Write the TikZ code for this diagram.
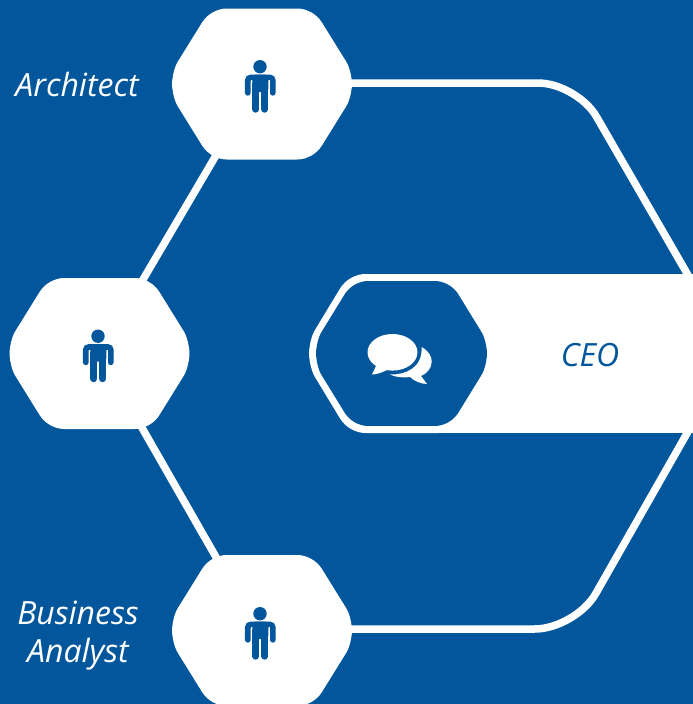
\documentclass[tikz,border=0pt]{standalone}
\usepackage{fontspec}
\setmainfont{Open Sans}
\definecolor{bgblue}{HTML}{01569C}
\tikzset{
  hexbox/.style={minimum width=180pt,minimum height=151pt,inner sep=0pt,outer sep=0pt},
  conn/.style={draw=white,line width=7.5pt},
  lbl/.style={font=\itshape\fontsize{32}{38}\selectfont,align=center,inner sep=0pt},
}
\newcommand{\hexpath}{%
  (-90,0) .. controls (-90,-3.5) and (-88.5,-15.4) .. (-84.4,-22)
  -- (-59.6,-62) .. controls (-54.4,-70.1) and (-44.6,-75.5) .. (-35,-75.5)
  -- (35,-75.5) .. controls (44.6,-75.5) and (54.4,-70.1) .. (59.6,-62)
  -- (84.4,-22) .. controls (88.5,-15.4) and (90,-3.5) .. (90,0)
  .. controls (90,3.5) and (88.5,15.4) .. (84.4,22)
  -- (59.6,62) .. controls (54.4,70.1) and (44.6,75.5) .. (35,75.5)
  -- (-35,75.5) .. controls (-44.6,75.5) and (-54.4,70.1) .. (-59.6,62)
  -- (-84.4,22) .. controls (-88.5,15.4) and (-90,3.5) .. (-90,0) -- cycle
}
\newcommand{\person}[1]{%
  \begin{scope}[shift={(#1)}]
    \fill[bgblue] (-2,-17.3) circle (6.7);
    \fill[bgblue,rounded corners=3pt] (-9.7,-9.3) -- (6.3,-9.3) -- (6.3,8) -- (-9.7,8) -- cycle;
    \draw[bgblue,line width=5.7pt,line cap=round,rounded corners=3pt] (-14.2,8.8) -- (-14.2,-6.5) -- (10.8,-6.5) -- (10.8,8.8);
    \draw[bgblue,line width=7pt,line cap=round] (-6.2,0) -- (-6.2,25.2);
    \draw[bgblue,line width=7pt,line cap=round] (2.8,0) -- (2.8,25.2);
    \fill[white] (-2.6,9) rectangle (-1.2,29);
    \fill[white] (-11.3,-4) rectangle (-9.9,12);
    \fill[white] (6.5,-4) rectangle (7.9,12);
  \end{scope}
}
\begin{document}
\begin{tikzpicture}[x=1pt,y=-1pt]
\useasboundingbox (0,0) rectangle (693,704);
\fill[bgblue] (0,0) rectangle (693,704);
\clip (0,0) rectangle (693,704);
\node[hexbox] (arch) at (262,84) {};
\node[hexbox] (dev) at (99.5,353.5) {};
\node[hexbox] (ba) at (262,630.5) {};
\node[inner sep=0pt,minimum width=171pt,minimum height=145pt] (chat) at (401.5,353.5) {};
\coordinate (ceotop) at (702.4,300);
\coordinate (ceobot) at (706,400);
\coordinate (topbend) at (577,83);
\coordinate (botbend) at (575.6,629);
\draw[conn,rounded corners=39pt] (arch.center |- topbend) -- (topbend) -- (ceotop);
\draw[conn,rounded corners=41pt] (ba.center |- botbend) -- (botbend) -- (ceobot);
\draw[conn] (arch.center) ++(-4,0) -- (dev.center);
\draw[conn] (ba.center) ++(-4,0) -- (dev.center);
\fill[white,shift={(arch.center)}] \hexpath;
\fill[white,shift={(dev.center)}] \hexpath;
\fill[white,shift={(ba.center)}] \hexpath;
\person{262,84}
\person{100,353.5}
\person{262,631}
% CEO band
\fill[white] (chat.center |- 0,274) rectangle (701,433);
\fill[white,shift={(chat.center)},xscale=1.028,yscale=1.053] \hexpath;
\fill[bgblue,shift={(chat.center)},xscale=.95,yscale=.96] \hexpath;
% chat icon
\fill[white] (392.5,352.3) ellipse (25 and 18.3);
\fill[white] (376,366) -- (372,374.5) .. controls (376,374.5) and (381,373) .. (387,370) -- cycle;
\fill[white] (421.5,347) .. controls (429,351) and (432,357) .. (431.7,362) .. controls (431.5,369) and (426,374) .. (421,376) -- (427,384) .. controls (421,384) and (414,381) .. (410,377) .. controls (402,378) and (395,377) .. (390,374.5) .. controls (405,375) and (423,368) .. (421.5,347) -- cycle;
\node[lbl,text=white] (l1) at (77,84) {Architect};
\node[lbl,text=white] (l2) at (78,636) {Business\\Analyst};
\node[lbl,text=bgblue] (l3) at (590,355) {CEO};
\end{tikzpicture}
\end{document}
